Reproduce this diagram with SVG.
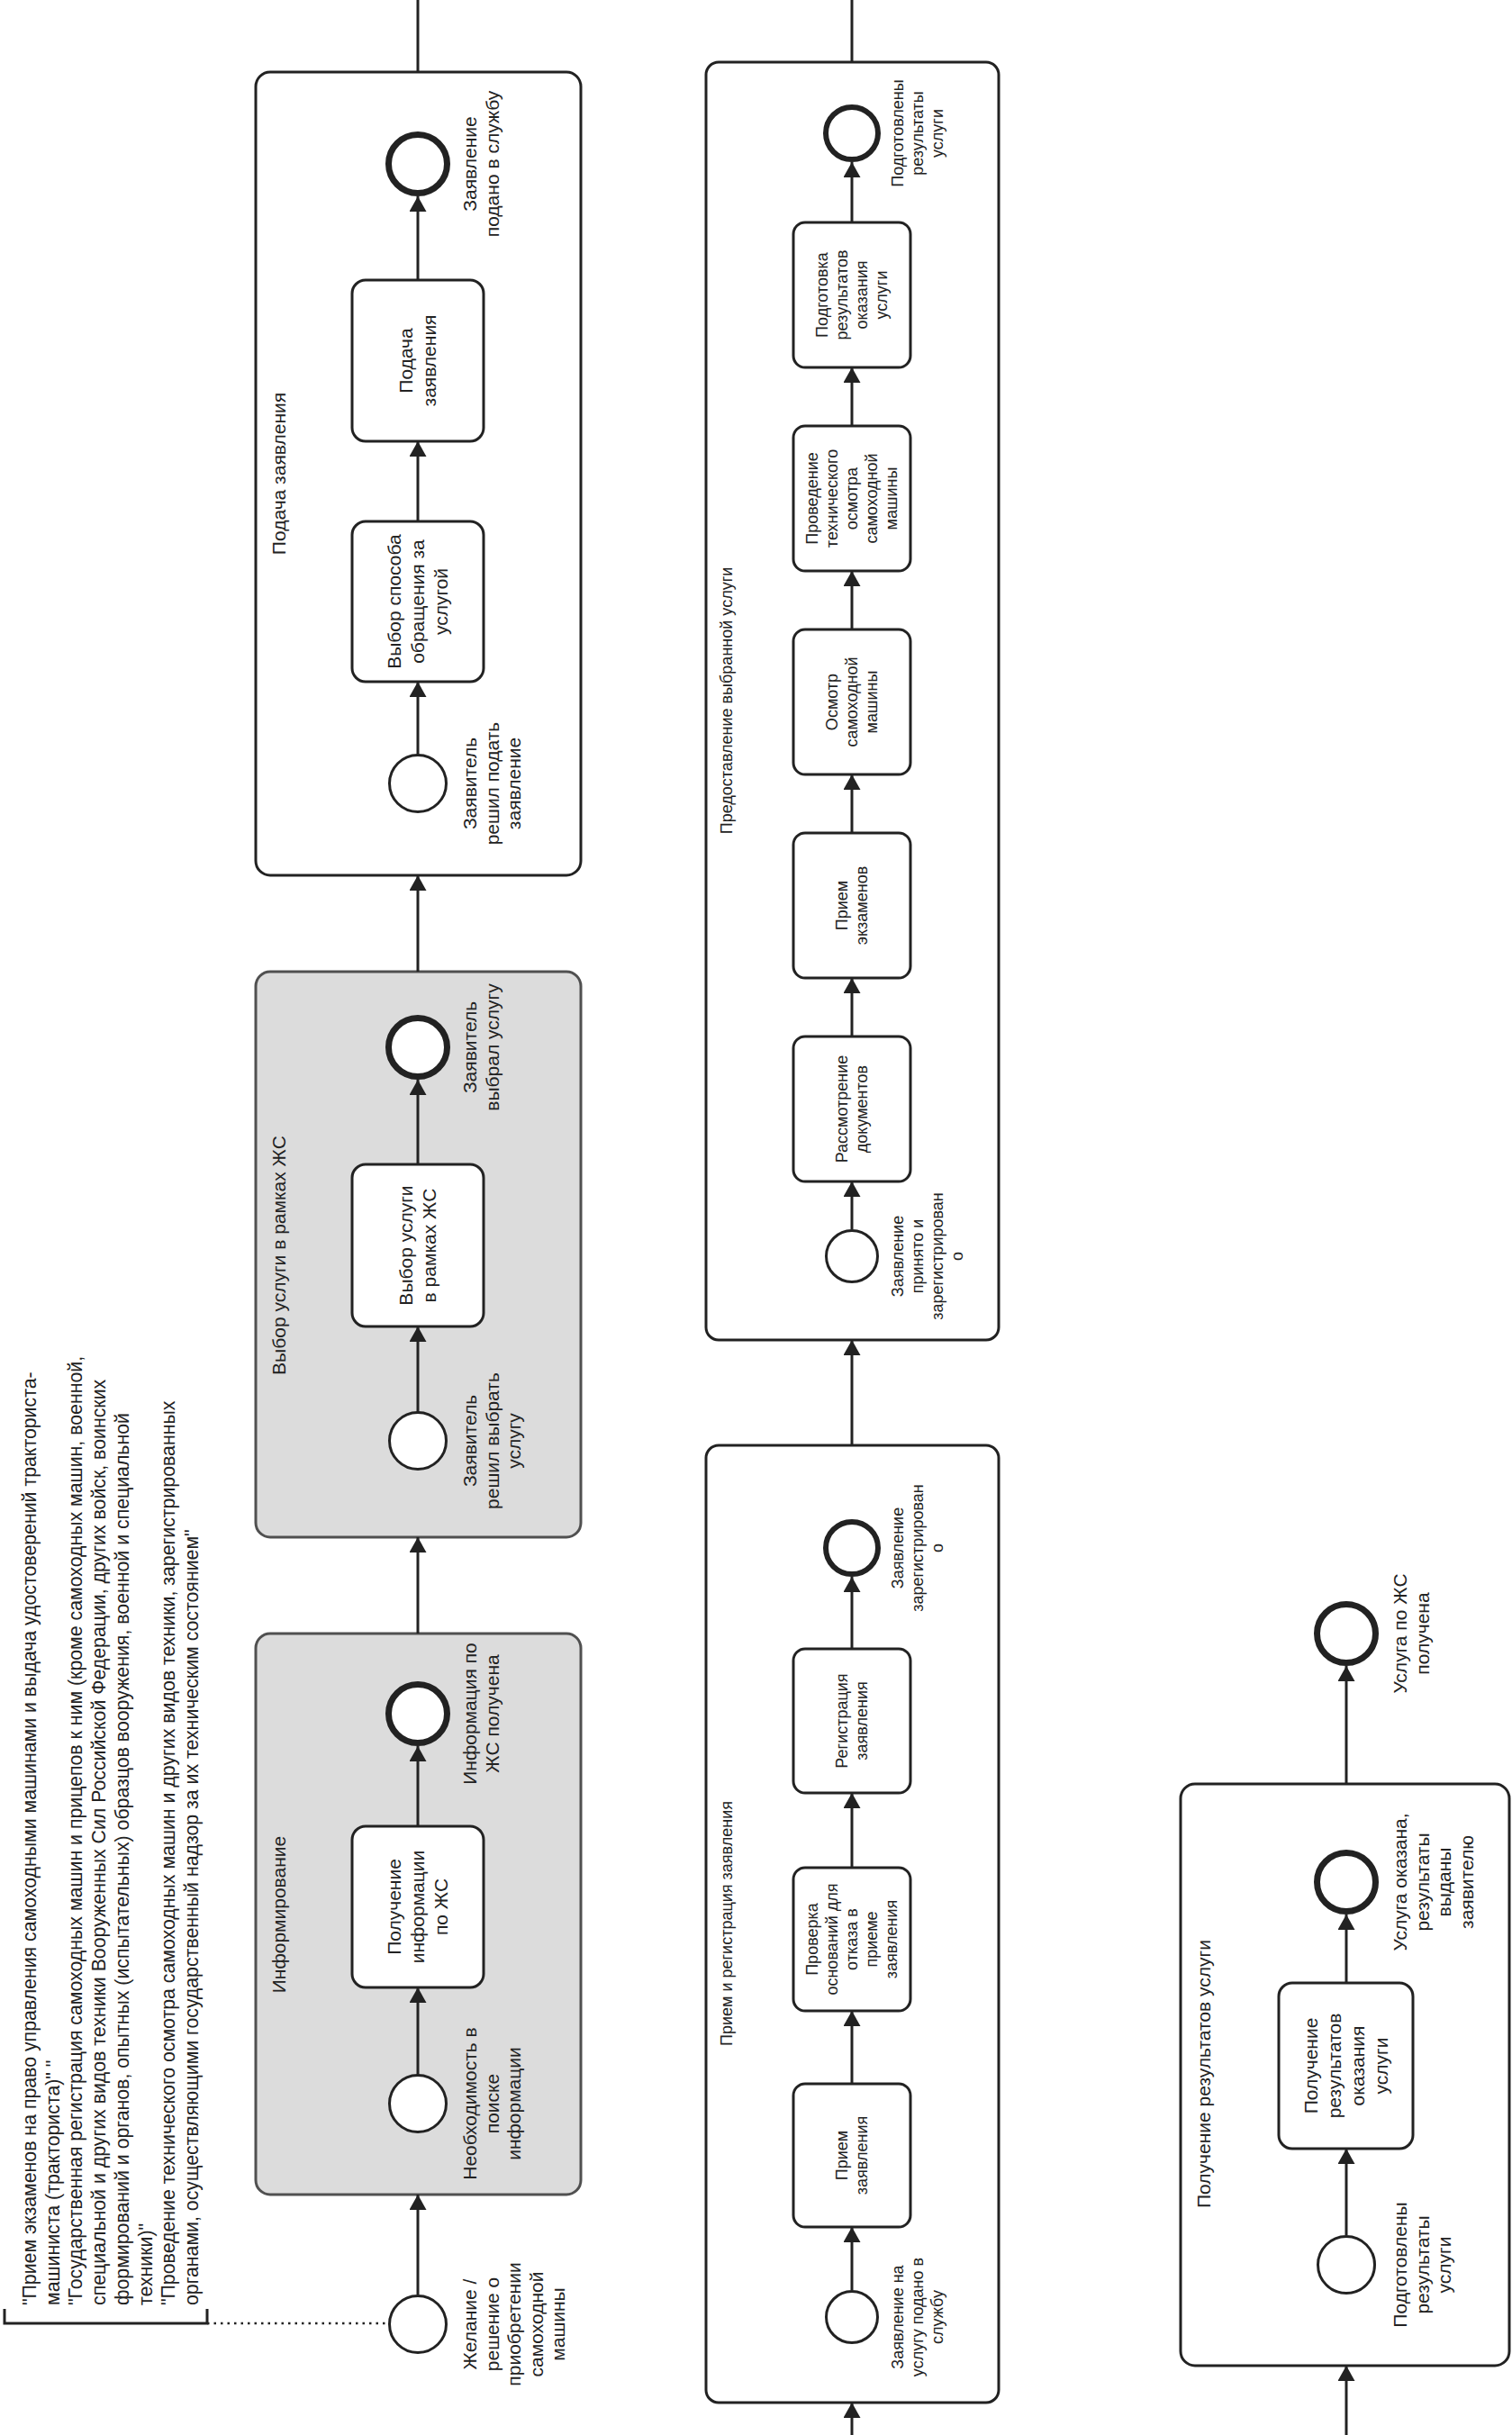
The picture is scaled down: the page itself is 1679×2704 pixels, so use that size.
<svg xmlns="http://www.w3.org/2000/svg" width="1679" height="2704" viewBox="0 0 1679 2704">
<style>
text{font-family:"Liberation Sans",Arial,sans-serif;fill:#222}
.a{font-size:21px}
.b{font-size:18px}
.m{text-anchor:middle}
.box{fill:#fff;stroke:#222;stroke-width:3}
.gbox{fill:#dcdcdc;stroke:#505050;stroke-width:3}
.task{fill:#fff;stroke:#222;stroke-width:3}
.st{fill:#fff;stroke:#222;stroke-width:3}
.en{fill:#fff;stroke:#222;stroke-width:7}
.en2{fill:#fff;stroke:#222;stroke-width:6}
.fl{fill:none;stroke:#222;stroke-width:3}
.fa{fill:none;stroke:#222;stroke-width:3;marker-end:url(#arr)}
.dot{fill:none;stroke:#222;stroke-width:2.5;stroke-dasharray:2.5 5}
</style>
<defs>
<marker id="arr" markerUnits="userSpaceOnUse" markerWidth="18" markerHeight="20" refX="17" refY="9.5" orient="auto">
<path d="M0,0 L17,9.5 L0,19 Z" fill="#222"/>
</marker>
</defs>
<rect x="0" y="0" width="1679" height="2704" fill="#fff"/>
<g transform="matrix(0,-1,1,0,0,2704)">
<!-- annotation -->
<g id="annotation">
<path class="fl" d="M140 5 H124 V230 H140"/>
<text class="a" x="144" style="font-size:21.3px">
<tspan x="144" y="40">"Прием экзаменов на право управления самоходными машинами и выдача удостоверений тракториста-</tspan>
<tspan x="144" y="65.7">машиниста (тракториста)" "</tspan>
<tspan x="144" y="91.4">"Государственная регистрация самоходных машин и прицепов к ним (кроме самоходных машин, военной,</tspan>
<tspan x="144" y="117.1">специальной и других видов техники Вооруженных Сил Российской Федерации, других войск, воинских</tspan>
<tspan x="144" y="142.8">формирований и органов, опытных (испытательных) образцов вооружения, военной и специальной</tspan>
<tspan x="144" y="168.5">техники)"</tspan>
<tspan x="144" y="194.2">"Проведение технического осмотра самоходных машин и других видов техники, зарегистрированных</tspan>
<tspan x="144" y="219.9">органами, осуществляющими государственный надзор за их техническим состоянием"</tspan>
</text>
</g>
<!-- column 1 -->
<g id="start-zhelanie">
<circle class="st" cx="123" cy="464" r="31.5"/>
<text class="a m"><tspan x="123" y="529">Желание /</tspan><tspan x="123" y="553.5">решение о</tspan><tspan x="123" y="578">приобретении</tspan><tspan x="123" y="602.5">самоходной</tspan><tspan x="123" y="627">машины</tspan></text>
</g>
<g id="sub-informirovanie">
<rect class="gbox" x="267" y="284" width="623" height="361" rx="16"/>
<text class="a m" x="578" y="317">Информирование</text>
</g>
<g id="start-neobhodimost">
<circle class="st" cx="368" cy="464" r="31.5"/>
<text class="a m"><tspan x="368" y="529">Необходимость в</tspan><tspan x="368" y="553.5">поиске</tspan><tspan x="368" y="578">информации</tspan></text>
</g>
<g id="task-poluchenie-info">
<rect class="task" x="497" y="391" width="179" height="146" rx="15"/>
<text class="a m"><tspan x="586.5" y="445.4">Получение</tspan><tspan x="586.5" y="471.4">информации</tspan><tspan x="586.5" y="497.4">по ЖС</tspan></text>
</g>
<g id="end-info">
<circle class="en" cx="801" cy="464" r="32.5"/>
<text class="a m"><tspan x="801" y="529">Информация по</tspan><tspan x="801" y="553.5">ЖС получена</tspan></text>
</g>
<g id="sub-vybor">
<rect class="gbox" x="997" y="284" width="628" height="361" rx="16"/>
<text class="a m" x="1310" y="317">Выбор услуги в рамках ЖС</text>
</g>
<g id="start-vybor">
<circle class="st" cx="1104" cy="464" r="31.5"/>
<text class="a m"><tspan x="1104" y="529">Заявитель</tspan><tspan x="1104" y="553.5">решил выбрать</tspan><tspan x="1104" y="578">услугу</tspan></text>
</g>
<g id="task-vybor">
<rect class="task" x="1231" y="391" width="180" height="146" rx="15"/>
<text class="a m"><tspan x="1321" y="458.4">Выбор услуги</tspan><tspan x="1321" y="484.4">в рамках ЖС</tspan></text>
</g>
<g id="end-vybor">
<circle class="en" cx="1541" cy="464" r="32.5"/>
<text class="a m"><tspan x="1541" y="529">Заявитель</tspan><tspan x="1541" y="553.5">выбрал услугу</tspan></text>
</g>
<g id="sub-podacha">
<rect class="box" x="1732" y="284" width="892" height="361" rx="16"/>
<text class="a m" x="2178" y="317">Подача заявления</text>
</g>
<g id="start-podacha">
<circle class="st" cx="1834" cy="464" r="31.5"/>
<text class="a m"><tspan x="1834" y="529">Заявитель</tspan><tspan x="1834" y="553.5">решил подать</tspan><tspan x="1834" y="578">заявление</tspan></text>
</g>
<g id="task-sposob">
<rect class="task" x="1947" y="391" width="178" height="146" rx="15"/>
<text class="a m"><tspan x="2036" y="445.4">Выбор способа</tspan><tspan x="2036" y="471.4">обращения за</tspan><tspan x="2036" y="497.4">услугой</tspan></text>
</g>
<g id="task-podacha">
<rect class="task" x="2214" y="391" width="179" height="146" rx="15"/>
<text class="a m"><tspan x="2303.5" y="458.4">Подача</tspan><tspan x="2303.5" y="484.4">заявления</tspan></text>
</g>
<g id="end-podacha">
<circle class="en" cx="2522" cy="464" r="32.5"/>
<text class="a m"><tspan x="2522" y="529">Заявление</tspan><tspan x="2522" y="553.5">подано в службу</tspan></text>
</g>
<!-- column 2 -->
<g id="sub-priem">
<rect class="box" x="36" y="784" width="1063" height="325" rx="14"/>
<text class="b m" x="568" y="813">Прием и регистрация заявления</text>
</g>
<g id="start-priem">
<circle class="st" cx="131" cy="946" r="28.5"/>
<text class="b m"><tspan x="131" y="1003">Заявление на</tspan><tspan x="131" y="1025">услугу подано в</tspan><tspan x="131" y="1047">службу</tspan></text>
</g>
<g id="task-priem-zayavl">
<rect class="task" x="231" y="881" width="159" height="130" rx="13"/>
<text class="b m"><tspan x="310.5" y="941.3">Прием</tspan><tspan x="310.5" y="963.3">заявления</tspan></text>
</g>
<g id="task-proverka">
<rect class="task" x="471" y="881" width="159" height="130" rx="13"/>
<text class="b m"><tspan x="550.5" y="908.3">Проверка</tspan><tspan x="550.5" y="930.3">оснований для</tspan><tspan x="550.5" y="952.3">отказа в</tspan><tspan x="550.5" y="974.3">приеме</tspan><tspan x="550.5" y="996.3">заявления</tspan></text>
</g>
<g id="task-registr">
<rect class="task" x="713" y="881" width="160" height="130" rx="13"/>
<text class="b m"><tspan x="793" y="941.3">Регистрация</tspan><tspan x="793" y="963.3">заявления</tspan></text>
</g>
<g id="end-registr">
<circle class="en2" cx="985" cy="946" r="29"/>
<text class="b m"><tspan x="985" y="1003">Заявление</tspan><tspan x="985" y="1025">зарегистрирован</tspan><tspan x="985" y="1047">о</tspan></text>
</g>
<g id="sub-predostavlenie">
<rect class="box" x="1216" y="784" width="1419" height="325" rx="14"/>
<text class="b m" x="1926" y="813">Предоставление выбранной услуги</text>
</g>
<g id="start-predost">
<circle class="st" cx="1309" cy="946" r="28.5"/>
<text class="b m"><tspan x="1309" y="1003">Заявление</tspan><tspan x="1309" y="1025">принято и</tspan><tspan x="1309" y="1047">зарегистрирован</tspan><tspan x="1309" y="1069">о</tspan></text>
</g>
<g id="task-rassmotrenie">
<rect class="task" x="1392" y="881" width="161" height="130" rx="13"/>
<text class="b m"><tspan x="1472.5" y="941.3">Рассмотрение</tspan><tspan x="1472.5" y="963.3">документов</tspan></text>
</g>
<g id="task-ekzameny">
<rect class="task" x="1618" y="881" width="161" height="130" rx="13"/>
<text class="b m"><tspan x="1698.5" y="941.3">Прием</tspan><tspan x="1698.5" y="963.3">экзаменов</tspan></text>
</g>
<g id="task-osmotr">
<rect class="task" x="1844" y="881" width="161" height="130" rx="13"/>
<text class="b m"><tspan x="1924.5" y="930.3">Осмотр</tspan><tspan x="1924.5" y="952.3">самоходной</tspan><tspan x="1924.5" y="974.3">машины</tspan></text>
</g>
<g id="task-tehosmotr">
<rect class="task" x="2070" y="881" width="161" height="130" rx="13"/>
<text class="b m"><tspan x="2150.5" y="908.3">Проведение</tspan><tspan x="2150.5" y="930.3">технического</tspan><tspan x="2150.5" y="952.3">осмотра</tspan><tspan x="2150.5" y="974.3">самоходной</tspan><tspan x="2150.5" y="996.3">машины</tspan></text>
</g>
<g id="task-podgotovka">
<rect class="task" x="2296" y="881" width="161" height="130" rx="13"/>
<text class="b m"><tspan x="2376.5" y="919.3">Подготовка</tspan><tspan x="2376.5" y="941.3">результатов</tspan><tspan x="2376.5" y="963.3">оказания</tspan><tspan x="2376.5" y="985.3">услуги</tspan></text>
</g>
<g id="end-predost">
<circle class="en2" cx="2556" cy="946" r="29"/>
<text class="b m"><tspan x="2556" y="1003">Подготовлены</tspan><tspan x="2556" y="1025">результаты</tspan><tspan x="2556" y="1047">услуги</tspan></text>
</g>
<!-- column 3 -->
<g id="sub-poluchenie">
<rect class="box" x="77" y="1311" width="646" height="365" rx="16"/>
<text class="a m" x="401" y="1344">Получение результатов услуги</text>
</g>
<g id="start-poluchenie">
<circle class="st" cx="189" cy="1495" r="31.5"/>
<text class="a m"><tspan x="189" y="1562">Подготовлены</tspan><tspan x="189" y="1586.5">результаты</tspan><tspan x="189" y="1611">услуги</tspan></text>
</g>
<g id="task-poluchenie">
<rect class="task" x="318" y="1420" width="184" height="149" rx="15"/>
<text class="a m"><tspan x="410" y="1463.4">Получение</tspan><tspan x="410" y="1489.4">результатов</tspan><tspan x="410" y="1515.4">оказания</tspan><tspan x="410" y="1541.4">услуги</tspan></text>
</g>
<g id="end-vydany">
<circle class="en" cx="614" cy="1495" r="32.5"/>
<text class="a m"><tspan x="614" y="1562">Услуга оказана,</tspan><tspan x="614" y="1586.5">результаты</tspan><tspan x="614" y="1611">выданы</tspan><tspan x="614" y="1635.5">заявителю</tspan></text>
</g>
<g id="end-usluga">
<circle class="en" cx="890" cy="1495" r="32.5"/>
<text class="a m"><tspan x="890" y="1562">Услуга по ЖС</tspan><tspan x="890" y="1586.5">получена</tspan></text>
</g>
<!-- connectors -->
<g id="connectors">
<path class="dot" d="M124 230 V431"/>
<path class="fa" d="M156 464 H267"/>
<path class="fa" d="M400 464 H497"/>
<path class="fa" d="M676 464 H765"/>
<path class="fa" d="M890 464 H997"/>
<path class="fa" d="M1136 464 H1231"/>
<path class="fa" d="M1411 464 H1505"/>
<path class="fa" d="M1625 464 H1732"/>
<path class="fa" d="M1866 464 H1947"/>
<path class="fa" d="M2125 464 H2214"/>
<path class="fa" d="M2393 464 H2486"/>
<path class="fl" d="M2624 464 H2704"/>
<path class="fa" d="M0 946 H36"/>
<path class="fa" d="M161 946 H231"/>
<path class="fa" d="M390 946 H471"/>
<path class="fa" d="M630 946 H713"/>
<path class="fa" d="M873 946 H953"/>
<path class="fa" d="M1099 946 H1216"/>
<path class="fa" d="M1339 946 H1392"/>
<path class="fa" d="M1553 946 H1618"/>
<path class="fa" d="M1779 946 H1844"/>
<path class="fa" d="M2005 946 H2070"/>
<path class="fa" d="M2231 946 H2296"/>
<path class="fa" d="M2457 946 H2524"/>
<path class="fl" d="M2635 946 H2704"/>
<path class="fa" d="M0 1495 H77"/>
<path class="fa" d="M222 1495 H318"/>
<path class="fa" d="M502 1495 H578"/>
<path class="fa" d="M723 1495 H854"/>
</g>
</g>
</svg>
